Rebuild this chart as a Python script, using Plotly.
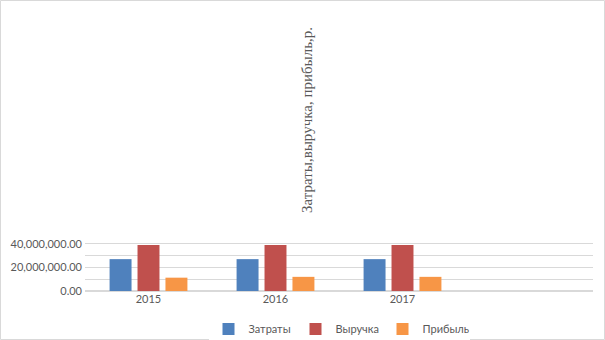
import plotly.graph_objects as go

years = ["2015", "2016", "2017"]
costs = [27000000, 27000000, 27000000]
revenue = [39000000, 39000000, 39000000]
profit = [11300000, 12000000, 12000000]

y_ticks = [0, 10000000, 20000000, 30000000, 40000000, 50000000]
y_tick_text = ["0.00", "", "20,000,000.00", "", "40,000,000.00", ""]

series = [
    ("Затраты", costs, "#4F81BD"),
    ("Выручка", revenue, "#C0504D"),
    ("Прибыль", profit, "#F79646"),
]

xpos = list(range(len(years)))

W, H = 605, 340
L, R, T, B = 85, 12, 232, 49
pw, ph = W - L - R, H - T - B

fig = go.Figure()
for name, vals, color in series:
    fig.add_trace(go.Bar(x=xpos, y=vals, name=name, marker=dict(color=color, line=dict(width=0))))

fig.update_layout(
    width=W, height=H,
    margin=dict(l=L, r=R, t=T, b=B, pad=0, autoexpand=False),
    paper_bgcolor="white", plot_bgcolor="white",
    barmode="group", bargap=0.34, bargroupgap=0.214,
    font=dict(family="Lato, Liberation Sans, sans-serif", color="#595959", size=11),
    showlegend=True,
    legend=dict(orientation="h", x=0.5, xanchor="center", y=-38 / ph, yanchor="middle",
                font=dict(size=11, color="#595959"), itemwidth=30, entrywidth=42,
                traceorder="normal"),
    xaxis=dict(range=[-0.5, 3.5], tickvals=xpos, ticktext=years, showgrid=False,
               zeroline=False, showline=False, ticks="", fixedrange=True),
    yaxis=dict(range=[0, 50000000], tickvals=y_ticks, ticktext=y_tick_text,
               showgrid=True, gridcolor="#d9d9d9", gridwidth=1, zeroline=True,
               zerolinecolor="#d9d9d9", ticks="", showline=False, ticklabelstandoff=2),
    shapes=[dict(type="rect", xref="paper", yref="paper", x0=-(L - 0.5) / pw, x1=1 + (R - 0.5) / pw,
                 y0=-(B - 0.5) / ph, y1=1 + (T - 0.5) / ph, line=dict(color="#d9d9d9", width=1))],
    annotations=[dict(text="Затраты,выручка, прибыль,р.", textangle=-90,
                      xref="paper", yref="paper", x=(307 - L) / pw, y=1 + (T - 120) / ph,
                      showarrow=False, xanchor="center", yanchor="middle",
                      font=dict(family="Liberation Serif, DejaVu Serif, serif", size=15, color="#595959"))],
)

fig.write_html("out.html")
